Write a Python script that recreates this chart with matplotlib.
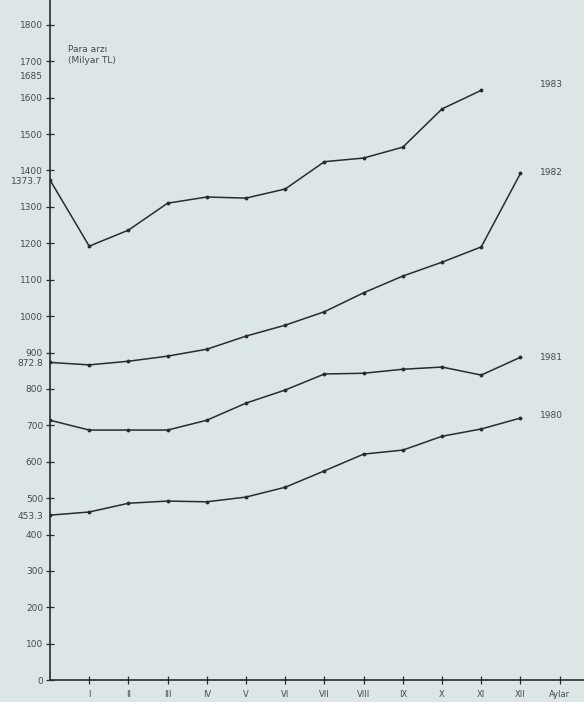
import matplotlib

matplotlib.use("Agg")
import matplotlib.pyplot as plt  # noqa: E402

# money supply (Para arzı, milyar TL) by month; index 0 = end of previous year
months = list(range(13))
month_labels = ["I", "II", "III", "IV", "V", "VI", "VII", "VIII", "IX", "X", "XI", "XII", "Aylar"]

s1980 = [453.3, 462, 486, 492, 490, 503, 530, 575, 621, 632, 670, 690, 720]
s1981 = [714, 687, 687, 687, 714, 761, 797, 841, 843, 854, 860, 838, 887]
s1982 = [872.8, 866, 876, 890, 909, 945, 975, 1012, 1064, 1110, 1148, 1190, 1392]
s1983 = [1373.7, 1192, 1236, 1310, 1327, 1324, 1349, 1424, 1434, 1464, 1569, 1620]

series = [("1980", s1980), ("1981", s1981), ("1982", s1982), ("1983", s1983)]
label_pos = {"1980": (12.5, 728), "1981": (12.5, 887), "1982": (12.5, 1393), "1983": (12.5, 1635)}

yticks = list(range(0, 1900, 100))
extra_ticks = [453.3, 872.8, 1373.7, 1662]
extra_labels = ["453.3", "872.8", "1373.7", "1685"]

bg = "#dce6e7"
ink = "#2b2b2b"
txt = "#4a4a4a"

fig = plt.figure(figsize=(5.84, 7.02), dpi=100, facecolor=bg)
ax = fig.add_axes([0.0856, 0.031, 0.9144, 0.969], facecolor=bg)

for name, vals in series:
    ax.plot(months[:len(vals)], vals, color=ink, lw=1.1, marker="o", ms=1.8, zorder=3)
    lx, ly = label_pos[name]
    ax.text(lx, ly, name, fontsize=6.5, color=txt, va="center", ha="left")

ax.text(0.45, 1745, "Para arzı\n(Milyar TL)", fontsize=6.5, color=txt, va="top", ha="left",
        linespacing=1.3)

ax.set_xlim(0, 13.62)
ax.set_ylim(0, 1868)
ax.set_xticks(months[1:] + [13])
ax.set_xticklabels(month_labels, fontsize=6, color=txt)
ax.set_yticks(yticks)
ax.set_yticklabels([str(v) for v in yticks], fontsize=6.5, color=txt)
ax.set_yticks(extra_ticks, minor=True)
ax.set_yticklabels(extra_labels, minor=True, fontsize=6.5, color=txt)
ax.tick_params(axis="y", which="major", direction="inout", length=6, width=0.9, color=ink, pad=2)
ax.tick_params(axis="y", which="minor", length=0, pad=5)
ax.tick_params(axis="x", direction="inout", length=6, width=0.9, color=ink, pad=4)

for side in ["top", "right"]:
    ax.spines[side].set_visible(False)
for side in ["left", "bottom"]:
    ax.spines[side].set_color(ink)
    ax.spines[side].set_linewidth(1.2)

fig.savefig("out.png", dpi=100, facecolor=bg)
